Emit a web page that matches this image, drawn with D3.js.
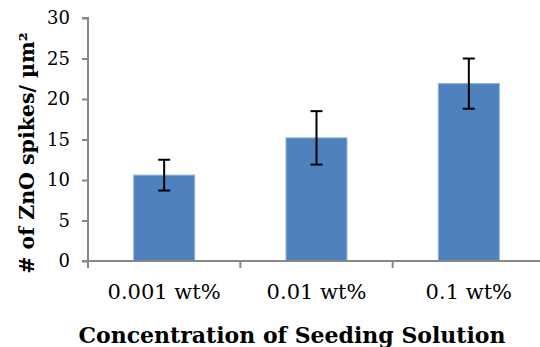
<!DOCTYPE html>
<html>
<head>
<meta charset="utf-8">
<script src="https://cdn.jsdelivr.net/npm/d3@7"></script>
<style>
  html, body { margin: 0; padding: 0; background: #fff; }
  svg { display: block; }
  text { font-family: "DejaVu Serif", "Liberation Serif", serif; fill: #000; }
</style>
</head>
<body>
<svg id="chart" width="540" height="347"></svg>
<script>
// Spike density for each seeding-solution concentration
const categories = ["0.001 wt%", "0.01 wt%", "0.1 wt%"];
const means = [10.6, 15.2, 21.9];
const errors = [1.9, 3.3, 3.1];
const yTicks = [0, 5, 10, 15, 20, 25, 30];

const svg = d3.select("#chart");
const margin = { left: 88, right: -5, top: 18, bottom: 86 };
const W = 540, H = 347;

const x = d3.scaleBand()
  .domain(categories)
  .range([margin.left, W - margin.right])
  .paddingInner(0.6)
  .paddingOuter(0.3);

const y = d3.scaleLinear()
  .domain([0, 30])
  .range([H - margin.bottom, margin.top]);

const axisColor = "#878787";

// y axis
const yAxis = svg.append("g")
  .attr("transform", `translate(${margin.left},0)`)
  .call(d3.axisLeft(y).tickValues(yTicks).tickSize(6).tickPadding(12).tickFormat(d3.format("d")));
yAxis.select(".domain").attr("stroke", axisColor).attr("stroke-width", 2)
  .attr("d", `M-6,${y(30)}H0V${y(0)}`);
yAxis.selectAll(".tick line").attr("stroke", axisColor).attr("stroke-width", 2);
yAxis.selectAll(".tick text").style("font-size", "18px").style("font-family", "DejaVu Serif, serif").attr("fill", "#000");

// bars
svg.append("g").selectAll("rect")
  .data(categories)
  .join("rect")
  .attr("x", d => x(d))
  .attr("y", (d, i) => y(means[i]))
  .attr("width", x.bandwidth())
  .attr("height", (d, i) => y(0) - y(means[i]))
  .attr("fill", "#4F81BD")
  .attr("stroke", "#8AAFDB")
  .attr("stroke-width", 1);

// x axis with tick marks between categories
const xg = svg.append("g");
xg.append("line")
  .attr("x1", margin.left - 6).attr("x2", W)
  .attr("y1", y(0)).attr("y2", y(0))
  .attr("stroke", axisColor).attr("stroke-width", 2);
const bounds = [0, 1, 2, 3].map(i => x.range()[0] + i * ((x.range()[1] - x.range()[0]) / categories.length));
xg.selectAll("line.tick")
  .data(bounds)
  .join("line")
  .attr("class", "tick")
  .attr("x1", d => d).attr("x2", d => d)
  .attr("y1", y(0)).attr("y2", y(0) + 7)
  .attr("stroke", axisColor).attr("stroke-width", 2);
xg.selectAll("text")
  .data(categories)
  .join("text")
  .attr("x", d => x(d) + x.bandwidth() / 2)
  .attr("y", 299)
  .attr("text-anchor", "middle")
  .style("font-size", "21px")
  .text(d => d);

// error bars
const eb = svg.append("g").attr("stroke", "#000").attr("stroke-width", 2);
categories.forEach((c, i) => {
  const cx = x(c) + x.bandwidth() / 2;
  const top = y(means[i] + errors[i]);
  const bot = y(means[i] - errors[i]);
  eb.append("line").attr("x1", cx).attr("x2", cx).attr("y1", top).attr("y2", bot);
  eb.append("line").attr("x1", cx - 6).attr("x2", cx + 6).attr("y1", top).attr("y2", top);
  eb.append("line").attr("x1", cx - 6).attr("x2", cx + 6).attr("y1", bot).attr("y2", bot);
});

// axis titles
svg.append("text")
  .attr("x", 292)
  .attr("y", 343)
  .attr("text-anchor", "middle")
  .style("font-size", "22px")
  .style("font-weight", "bold")
  .text("Concentration of Seeding Solution");

svg.append("text")
  .attr("transform", "translate(34,153) rotate(-90)")
  .attr("text-anchor", "middle")
  .style("font-size", "20.5px")
  .style("font-weight", "bold")
  .text("# of ZnO spikes/ µm²");
</script>
</body>
</html>
